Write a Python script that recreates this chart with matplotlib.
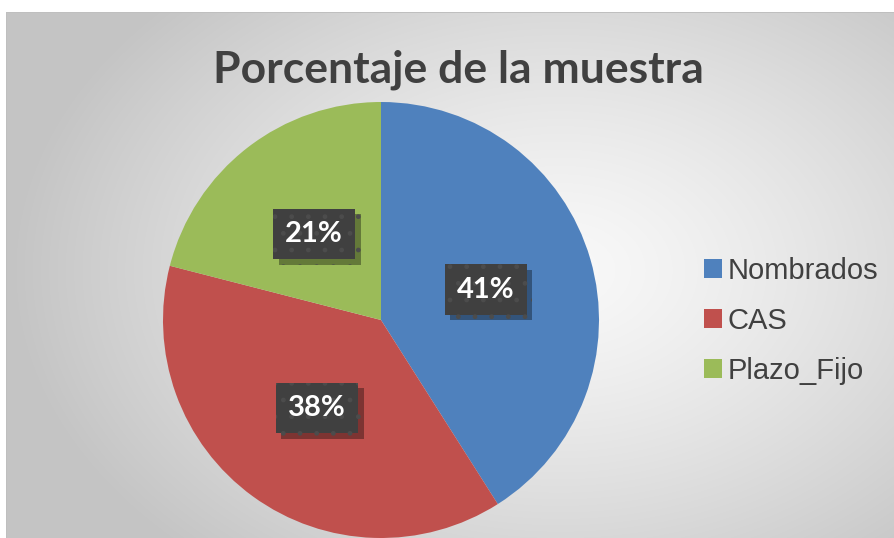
import numpy as np
import matplotlib
matplotlib.use("Agg")
import matplotlib.pyplot as plt
from matplotlib.patches import Patch
import matplotlib.patheffects as pe

# datos del grafico
categorias = ["Nombrados", "CAS", "Plazo_Fijo"]
porcentajes = [41, 38, 21]
colores = ["#4f81bd", "#c0504d", "#9bbb59"]
titulo = "Porcentaje de la muestra"

W, H = 894, 538
fig = plt.figure(figsize=(W / 100, H / 100), dpi=100)

# fondo con degradado radial (estilo Excel)
bg = fig.add_axes([0, 0, 1, 1])
yy, xx = np.mgrid[0:H, 0:W]
d = np.sqrt(((xx - 560) / 600.0) ** 2 + ((yy - 270) / 420.0) ** 2)
g = np.clip(0.975 - 0.23 * d ** 1.3, 0.77, 1.0)
img = np.dstack([g, g, g])
img[:12, :] = 1.0
img[:, :6] = 1.0
img[12, 6:] = 0.75
img[12:, 6] = 0.75
bg.imshow(img, extent=[0, W, H, 0], interpolation="bilinear")
bg.set_xlim(0, W)
bg.set_ylim(H, 0)
bg.axis("off")

# titulo
fig.text(458 / W, 1 - 83 / H, titulo, ha="center", va="baseline",
         fontsize=32, fontweight="bold", color="#404040", family="Lato")

# pastel
cx, cy, r = 381, 320, 218
ax = fig.add_axes([(cx - r) / W, 1 - (cy + r) / H, 2 * r / W, 2 * r / H])
wedges, texts, autotexts = ax.pie(
    porcentajes, colors=colores, startangle=90, counterclock=False,
    autopct="%d%%", pctdistance=0.5, radius=1,
    wedgeprops=dict(edgecolor="white", linewidth=0),
    textprops=dict(color="white", fontsize=21, fontweight="bold", family="Lato"))
ax.set_xlim(-1, 1)
ax.set_ylim(-1, 1)
ax.set_aspect("equal")

for t in autotexts:
    t.set_bbox(dict(boxstyle="square,pad=0.42", facecolor="#404040",
                    edgecolor="#4c4c4c", hatch=".", linewidth=0))
    t.get_bbox_patch().set_path_effects(
        [pe.SimplePatchShadow(offset=(4, -4), shadow_rgbFace="black", alpha=0.35),
         pe.Normal()])

# leyenda
handles = [Patch(facecolor=c, edgecolor="none") for c in colores]
leg = fig.legend(handles, categorias, loc="upper left",
                 bbox_to_anchor=(704 / W, 1 - 257 / H),
                 frameon=False, prop=dict(family="Liberation Sans", size=21),
                 handlelength=0.6, handleheight=0.6, handletextpad=0.2,
                 labelspacing=0.75, borderpad=0, borderaxespad=0)
for t in leg.get_texts():
    t.set_color("#404040")

fig.savefig("out.png", dpi=100)
